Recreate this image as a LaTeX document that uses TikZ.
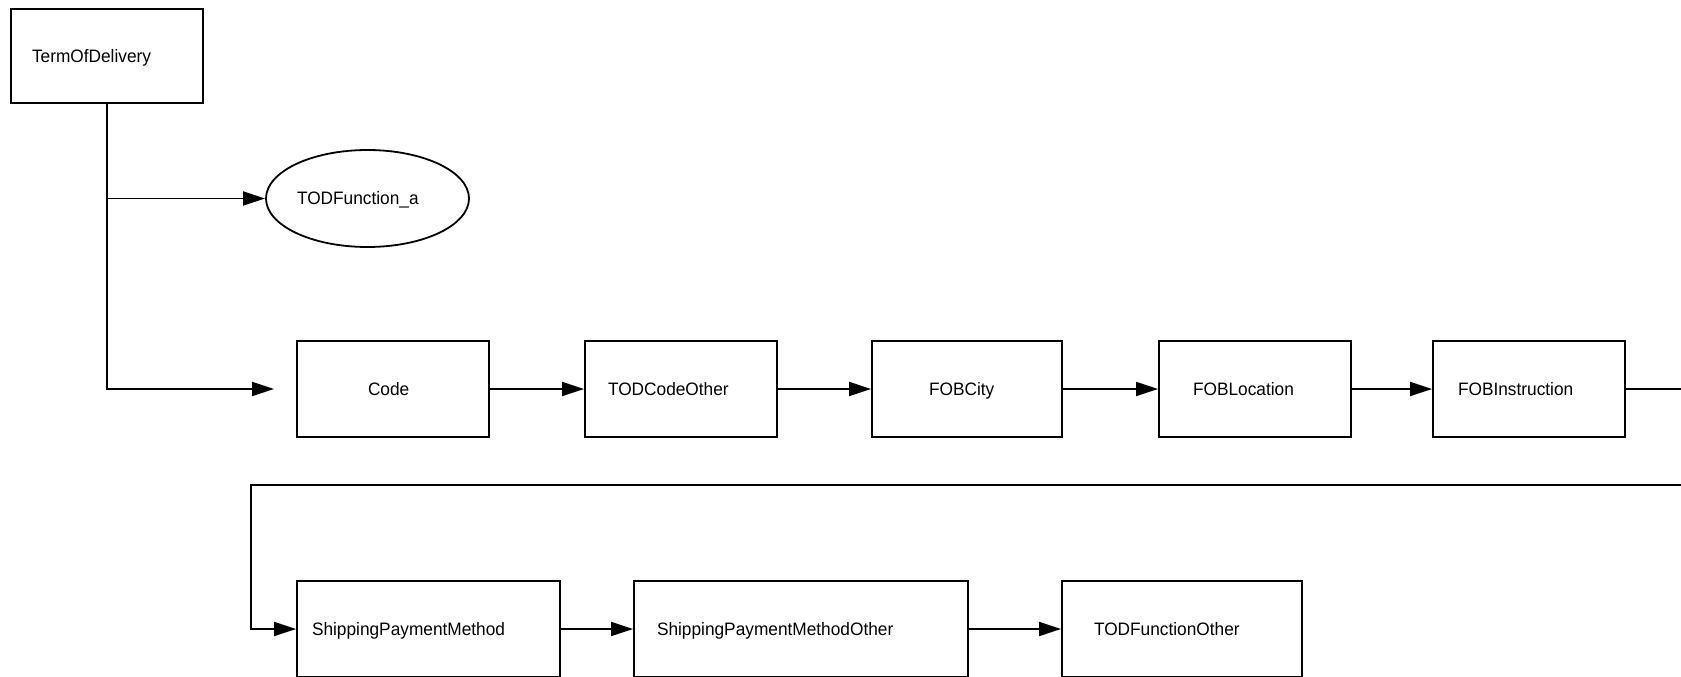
\documentclass[tikz,border=0pt]{standalone}
\usepackage{fontspec}
\setmainfont{Liberation Sans}[FakeStretch=0.96]
\usetikzlibrary{arrows.meta,shapes.geometric}
\begin{document}
\begin{tikzpicture}[x=1pt,y=-1pt,
  every node/.style={font=\fontsize{18}{21}\selectfont, inner xsep=0pt, inner ysep=0pt, align=left, text height=16pt, text depth=3.8pt},
  box/.style={draw, line width=1.8pt, rectangle, minimum height=96pt},
  oval/.style={draw, line width=1.8pt, ellipse, minimum width=203pt, minimum height=97pt},
  conn/.style={line width=1.8pt},
  arr/.style={line width=1.8pt, -{Triangle[length=22pt,width=14pt]}}]
\useasboundingbox (0,0) rectangle (1681,677);
\clip (0,0) rectangle (1681,677);
% nodes
\node[box, minimum width=192pt, minimum height=94pt, text width=150pt] (tod) at (107,56) {TermOfDelivery};
\node[oval, text width=141pt] (func) at (367.5,198.5) {TODFunction\_a};
\node[box, minimum width=192pt, text width=50pt] (code) at (393,389) {Code};
\node[box, minimum width=192pt, text width=146pt] (todco) at (681,389) {TODCodeOther};
\node[box, minimum width=190pt, text width=76pt] (city) at (967,389) {FOBCity};
\node[box, minimum width=192pt, text width=124pt] (loc) at (1255,389) {FOBLocation};
\node[box, minimum width=192pt, text width=142pt] (instr) at (1529,389) {FOBInstruction};
\node[box, minimum width=263pt, text width=233pt] (spm) at (428.5,629) {ShippingPaymentMethod};
\node[box, minimum width=334pt, text width=288pt] (spmo) at (801,629) {ShippingPaymentMethodOther};
\node[box, minimum width=240pt, text width=176pt] (todfo) at (1182,629) {TODFunctionOther};
% coordinates
\coordinate (codein) at (274,389);
\coordinate (offA) at (1700,389);
\coordinate (offB) at (1700,485);
\coordinate (retL) at (251,485);
% connectors
\draw[arr] (tod.south) |- (codein);
\draw[arr] (tod.south |- func.west) -- (func.west);
\draw[arr] (code) -- (todco);
\draw[arr] (todco) -- (city);
\draw[arr] (city) -- (loc);
\draw[arr] (loc) -- (instr);
\draw[conn] (instr.east) -- (offA);
\draw[arr] (offB) -- (retL) |- (spm.west);
\draw[arr] (spm) -- (spmo);
\draw[arr] (spmo) -- (todfo);
\end{tikzpicture}
\end{document}
